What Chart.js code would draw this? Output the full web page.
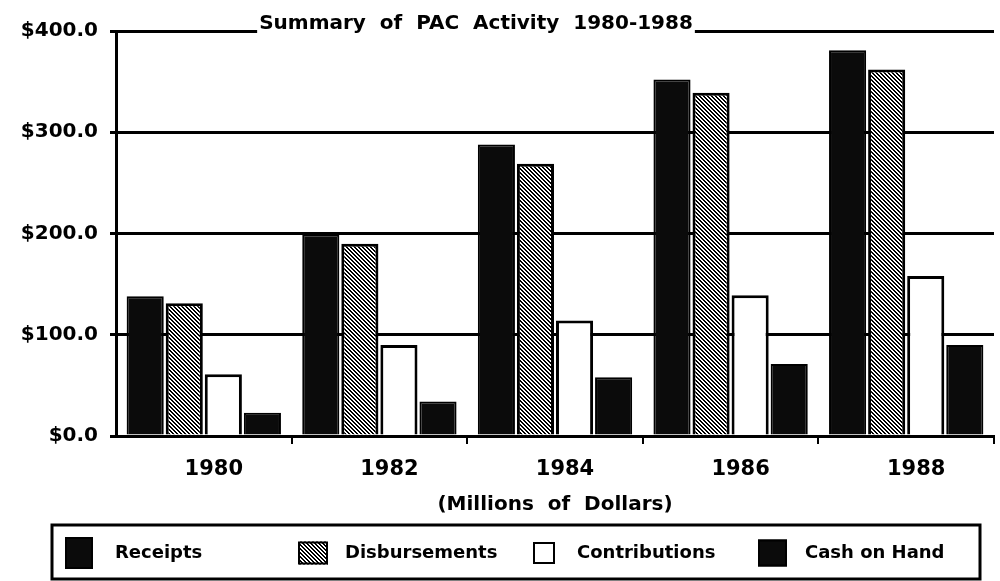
<!DOCTYPE html>
<html>
<head>
<meta charset="utf-8">
<script src="https://cdn.jsdelivr.net/npm/chart.js@4.4.1/dist/chart.umd.min.js"></script>
<style>
  html, body { margin: 0; padding: 0; background: #fff; }
  #wrap { width: 1000px; height: 581px; }
</style>
</head>
<body>
<div id="wrap"><canvas id="pacChart"></canvas></div>
<script>
// values, in millions of dollars
var years = ['1980', '1982', '1984', '1986', '1988'];
var receipts = [138, 199, 288, 352, 381];
var disbursements = [131, 190, 269, 339, 362];
var contributions = [61, 90, 114, 139, 158];
var cashOnHand = [23, 34, 58, 71, 90];
var yTicks = [0, 100, 200, 300, 400];
var seriesNames = ['Receipts', 'Disbursements', 'Contributions', 'Cash on Hand'];

var ctx = document.getElementById('pacChart').getContext('2d');

// dense diagonal hatch used for the Disbursements bars
function hatchPattern() {
  var c = document.createElement('canvas');
  c.width = 4;
  c.height = 4;
  var g = c.getContext('2d');
  g.fillStyle = '#fff';
  g.fillRect(0, 0, 4, 4);
  g.fillStyle = '#000';
  for (var i = 0; i < 4; i++) {
    g.fillRect(i, i, 1, 1);
    g.fillRect(i, (i + 1) % 4, 1, 1);
  }
  return ctx.createPattern(c, 'repeat');
}
var hatch = hatchPattern();

// title sits on top of the $400 line, breaking it
var titlePlugin = {
  id: 'titleOnLine',
  afterDraw: function (chart) {
    var c = chart.ctx;
    var text = 'Summary  of  PAC  Activity  1980-1988';
    c.save();
    c.font = 'bold 20px "DejaVu Sans"';
    var w = c.measureText(text).width;
    var x = 476;
    var y = 24;
    c.fillStyle = '#fff';
    c.fillRect(x - w / 2 - 2, y - 14, w + 4, 28);
    c.fillStyle = '#000';
    c.textAlign = 'center';
    c.textBaseline = 'middle';
    c.fillText(text, x, y);
    c.restore();
  }
};

// boxed legend under the axis title
var legendPlugin = {
  id: 'boxLegend',
  afterDraw: function (chart) {
    var c = chart.ctx;
    var fills = ['#0b0b0b', hatch, '#fff', '#0b0b0b'];
    var marks = [
      { x: 65, w: 28, h: 32 },
      { x: 298, w: 30, h: 23 },
      { x: 533, w: 22, h: 22 },
      { x: 758, w: 29, h: 27 }
    ];
    var textX = [115, 345, 577, 805];
    var cy = 553;
    c.save();
    c.strokeStyle = '#000';
    c.lineWidth = 3;
    c.strokeRect(52, 525, 928, 54);
    c.font = 'bold 18px "DejaVu Sans"';
    c.textBaseline = 'middle';
    c.textAlign = 'left';
    for (var i = 0; i < seriesNames.length; i++) {
      var m = marks[i];
      c.fillStyle = fills[i];
      c.fillRect(m.x, cy - m.h / 2, m.w, m.h);
      c.lineWidth = 2;
      c.strokeRect(m.x + 1, cy - m.h / 2 + 1, m.w - 2, m.h - 2);
      c.fillStyle = '#000';
      c.fillText(seriesNames[i], textX[i], cy);
    }
    c.restore();
  }
};

var pacChart = new Chart(ctx, {
  type: 'bar',
  data: {
    labels: years,
    datasets: [
      {
        label: seriesNames[0],
        data: receipts,
        backgroundColor: '#0b0b0b',
        borderColor: '#000',
        borderWidth: 2
      },
      {
        label: seriesNames[1],
        data: disbursements,
        backgroundColor: hatch,
        borderColor: '#000',
        borderWidth: 3
      },
      {
        label: seriesNames[2],
        data: contributions,
        backgroundColor: '#fff',
        borderColor: '#000',
        borderWidth: 3
      },
      {
        label: seriesNames[3],
        data: cashOnHand,
        backgroundColor: '#0b0b0b',
        borderColor: '#000',
        borderWidth: 2
      }
    ]
  },
  options: {
    responsive: true,
    maintainAspectRatio: false,
    animation: false,
    layout: { padding: { top: 31, right: 6, left: 0, bottom: 59 } },
    datasets: {
      bar: { categoryPercentage: 0.89, barPercentage: 0.95 }
    },
    plugins: {
      title: { display: false },
      tooltip: { enabled: false },
      legend: { display: false }
    },
    scales: {
      x: {
        afterFit: function (scale) { scale.height = 86; },
        grid: {
          display: true,
          drawOnChartArea: false,
          drawTicks: true,
          tickLength: 8,
          lineWidth: 2,
          color: function (c) {
            return c.index === 0 || c.index === years.length ? 'rgba(0,0,0,0)' : '#000';
          }
        },
        border: { display: true, color: '#000', width: 3 },
        ticks: {
          color: '#000',
          padding: 13,
          labelOffset: 10,
          font: { family: '"DejaVu Sans"', size: 21, weight: 'bold' }
        },
        title: {
          display: true,
          text: '(Millions  of  Dollars)',
          color: '#000',
          padding: { top: 5, bottom: 5 },
          font: { family: '"DejaVu Sans"', size: 20, weight: 'bold' }
        }
      },
      y: {
        min: 0,
        max: 400,
        afterFit: function (scale) { scale.width = 116; },
        afterBuildTicks: function (scale) {
          scale.ticks = yTicks.map(function (v) { return { value: v }; });
        },
        grid: {
          color: '#000',
          lineWidth: 3,
          drawTicks: true,
          tickLength: 6
        },
        border: { display: true, color: '#000', width: 3 },
        ticks: {
          color: '#000',
          padding: 12,
          font: { family: '"DejaVu Sans"', size: 20, weight: 'bold' },
          callback: function (v) { return '$' + Number(v).toFixed(1); }
        }
      }
    }
  },
  plugins: [titlePlugin, legendPlugin]
});
</script>
</body>
</html>
